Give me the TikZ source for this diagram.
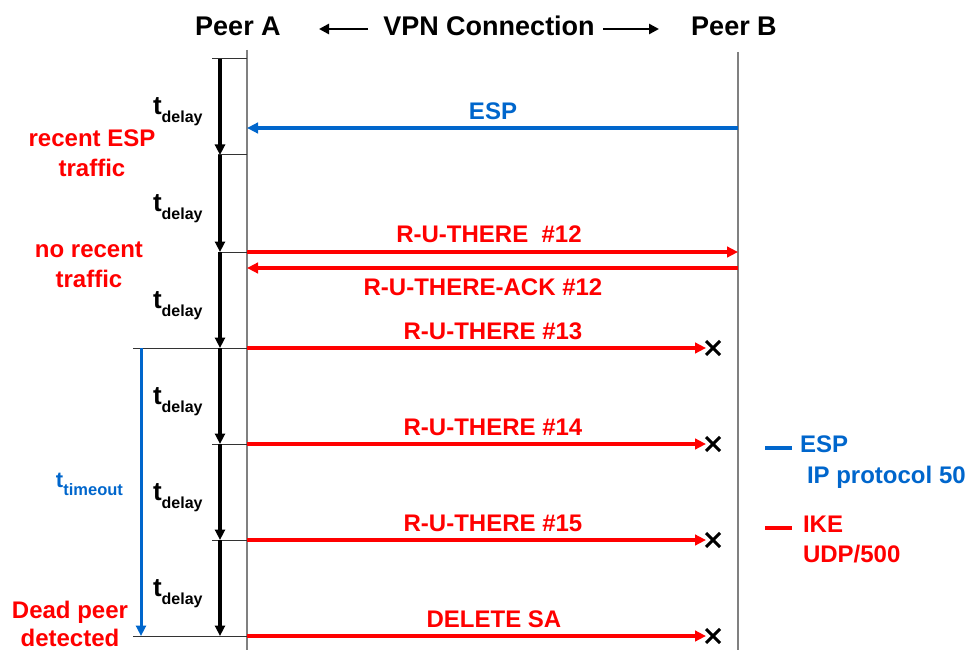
\documentclass[tikz,border=0pt]{standalone}
\usepackage{fontspec}
\setmainfont{Liberation Sans}
\usetikzlibrary{arrows.meta,shapes.misc}
\definecolor{espblue}{RGB}{0,102,204}
\definecolor{ikered}{RGB}{255,0,0}
\begin{document}
\begin{tikzpicture}[x=1pt,y=-1pt,
  every node/.style={inner sep=0pt,outer sep=0pt},
  txt/.style={font=\bfseries\fontsize{24}{30}\selectfont},
  hdr/.style={font=\bfseries\fontsize{27}{32}\selectfont,anchor=base},
  lifeline/.style={draw=black!50,line width=1.2pt},
  tick/.style={draw=black!80,line width=1pt},
  harrow/.style={line width=2.6pt,-{Triangle[length=10pt,width=10pt]}},
  dly/.style={line width=3.1pt,-{Triangle[length=10.5pt,width=10pt]}},
  tmo/.style={draw=espblue,line width=3pt,-{Triangle[length=10.5pt,width=10pt]}},
  ikemsg/.style={draw=ikered,line width=3.6pt,-{Triangle[length=11pt,width=10.5pt]}},
  espmsg/.style={draw=espblue,line width=3.3pt,-{Triangle[length=11pt,width=10.5pt]}},
  lost/.style={draw,cross out,line width=3pt,minimum size=14pt},
  msglbl/.style={txt,anchor=base,text=ikered},
  side/.style={txt,anchor=base,text=ikered},
  tdel/.style={anchor=base west,font=\bfseries},
]
\useasboundingbox (0,0) rectangle (970,650);

% header
\node[hdr] (pa) at (238,36) {Peer A};
\node[hdr] (vpn) at (489,36) {VPN Connection};
\node[hdr] (pb) at (734,36) {Peer B};
\coordinate (hl1) at (368,29); \coordinate (hl2) at (319,29);
\coordinate (hr1) at (603,29); \coordinate (hr2) at (659,29);
\draw[harrow] (hl1) -- (hl2);
\draw[harrow] (hr1) -- (hr2);

% lifelines
\coordinate (Atop) at (247,50); \coordinate (Abot) at (247,650);
\coordinate (Btop) at (738,52); \coordinate (Bbot) at (738,650);
\draw[lifeline] (Atop) -- (Abot);
\draw[lifeline] (Btop) -- (Bbot);

% levels on lifeline A
\coordinate (A0) at (247,59);
\coordinate (A1) at (247,155);
\coordinate (A2) at (247,252);
\coordinate (A3) at (247,348);
\coordinate (A4) at (247,444);
\coordinate (A5) at (247,540);
\coordinate (A6) at (247,636);
\coordinate (Aesp) at (247,128);
\coordinate (Aack) at (247,268);
\coordinate (dx) at (220,0);
\coordinate (tx) at (141,0);

% ticks
\draw[tick] (A0) -- ++(-35,0);
\draw[tick] (A1) -- ++(-29,0);
\draw[tick] (A2) -- ++(-29,0);
\draw[tick] (A3) -- ++(-114,0);
\draw[tick] (A4) -- ++(-35,0);
\draw[tick] (A5) -- ++(-35,0);
\draw[tick] (A6) -- ++(-114,0);

% delay arrows
\draw[dly] (A0 -| dx) -- (A1 -| dx);
\draw[dly] (A1 -| dx) -- (A2 -| dx);
\draw[dly] (A2 -| dx) -- (A3 -| dx);
\draw[dly] (A3 -| dx) -- (A4 -| dx);
\draw[dly] (A4 -| dx) -- (A5 -| dx);
\draw[dly] (A5 -| dx) -- (A6 -| dx);

% timeout arrow
\draw[tmo] (A3 -| tx) -- (A6 -| tx);

% t_delay labels
\foreach \n/\y in {1/115,2/211.5,3/308,4/404,5/500,6/596}{
  \node[tdel] (td\n) at (153,\y) {\fontsize{26}{26}\selectfont t\raisebox{-8pt}{\fontsize{16}{16}\selectfont delay}};
}
\node[tdel,text=espblue] (tto) at (56,487) {\fontsize{22}{22}\selectfont t\raisebox{-8pt}{\fontsize{16.5}{16.5}\selectfont timeout}};

% side labels
\node[side] (s1) at (92,147) {\begin{tabular}[t]{@{}c@{}}recent ESP\\traffic\end{tabular}};
\node[side] (s2) at (89,258) {\begin{tabular}[t]{@{}c@{}}no recent\\traffic\end{tabular}};
\node[side,font=\bfseries\fontsize{24}{28}\selectfont] (s3) at (70,618) {\begin{tabular}[t]{@{}c@{}}Dead peer\\detected\end{tabular}};

% lost markers
\node[lost] (x13) at (713,348) {};
\node[lost] (x14) at (713,444) {};
\node[lost] (x15) at (713,540) {};
\node[lost] (x16) at (713,636) {};

% messages
\draw[espmsg] (Aesp -| Btop) -- (Aesp);
\draw[ikemsg] (A2) -- (A2 -| Btop);
\draw[ikemsg] (Aack -| Btop) -- (Aack);
\draw[ikemsg] (A3) -- (x13.west);
\draw[ikemsg] (A4) -- (x14.west);
\draw[ikemsg] (A5) -- (x15.west);
\draw[ikemsg] (A6) -- (x16.west);

\node[msglbl,text=espblue] (lesp) at (493,120) {ESP};
\node[msglbl] (l12) at (489,243) {R-U-THERE \ \#12};
\node[msglbl] (lack) at (483,295) {R-U-THERE-ACK \#12};
\node[msglbl] (l13) at (493,339) {R-U-THERE \#13};
\node[msglbl] (l14) at (493,435) {R-U-THERE \#14};
\node[msglbl] (l15) at (493,531) {R-U-THERE \#15};
\node[msglbl] (ldel) at (494,627) {DELETE SA};

% legend
\coordinate (le1) at (765,448); \coordinate (le2) at (792,448);
\coordinate (li1) at (765,528); \coordinate (li2) at (792,528);
\draw[draw=espblue,line width=4pt] (le1) -- (le2);
\draw[draw=ikered,line width=4pt] (li1) -- (li2);
\node[anchor=base west,text=espblue,font=\bfseries\fontsize{24}{31}\selectfont] (legesp) at (800,452) {\begin{tabular}[t]{@{}l@{}}ESP\\\hspace{7pt}IP protocol 50\end{tabular}};
\node[anchor=base west,text=ikered,font=\bfseries\fontsize{24}{30}\selectfont] (legike) at (803,532) {\begin{tabular}[t]{@{}l@{}}IKE\\UDP/500\end{tabular}};
\end{tikzpicture}
\end{document}
